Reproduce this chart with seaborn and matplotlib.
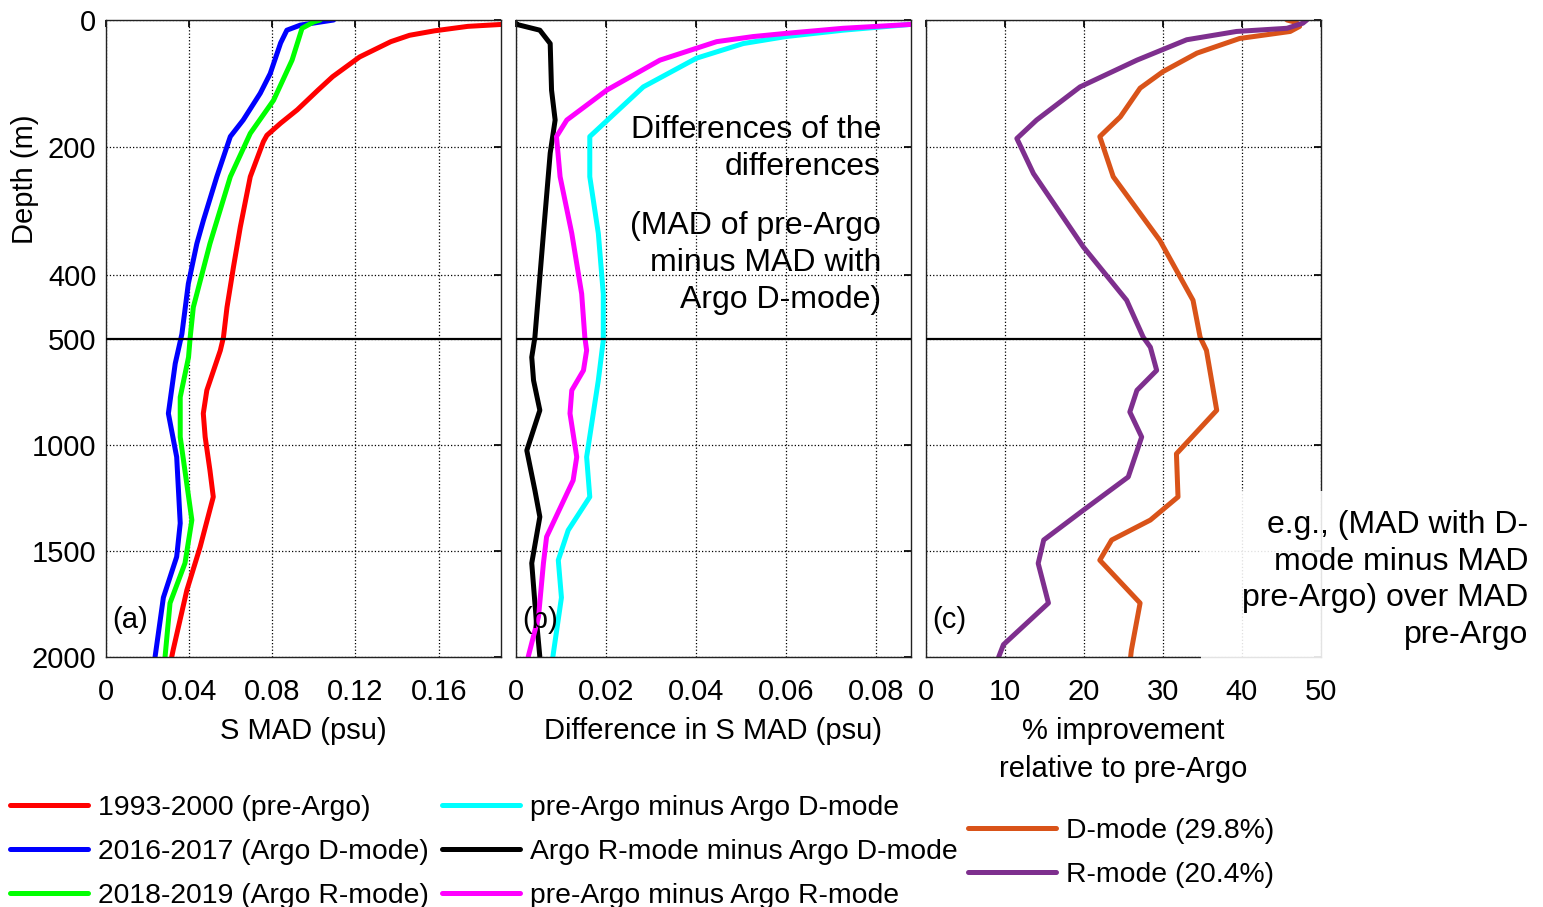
#!/usr/bin/env python3
# coding: utf-8

import numpy as np
import pandas as pd
import seaborn as sns
from matplotlib import pyplot as plt
from matplotlib.patches import Rectangle

# --- panel (a): S MAD profiles (psu) ---
depth_pre = [3, 7, 10, 17, 24, 34, 58, 89, 110, 141, 162, 181, 191, 246, 325, 388, 451, 498,
             556, 744, 853, 964, 1121, 1246, 1481, 1685, 1967, 2000]
mad_pre = [0.195, 0.190, 0.174, 0.158, 0.146, 0.137, 0.122, 0.109, 0.102, 0.092, 0.084, 0.0774,
           0.0757, 0.0694, 0.0646, 0.0613, 0.0582, 0.0565, 0.055, 0.0485, 0.0468, 0.0477,
           0.050, 0.0516, 0.0453, 0.0389, 0.0323, 0.0316]

depth_dmode = [0, 8, 16, 36, 84, 115, 157, 183, 246, 314, 351, 414, 493,
               618, 853, 1058, 1370, 1528, 1720, 2000]
mad_dmode = [0.1095, 0.0935, 0.087, 0.084, 0.079, 0.0742, 0.066, 0.0598, 0.0533, 0.0469,
             0.0437, 0.0396, 0.0365, 0.0333, 0.030, 0.034, 0.0357, 0.034, 0.0276, 0.0236]

depth_rmode = [0, 3, 13, 63, 126, 178, 246, 351, 451, 498,
               588, 776, 964, 1355, 1558, 1746, 2000]
mad_rmode = [0.103, 0.0999, 0.0943, 0.0895, 0.0806, 0.0694, 0.0598, 0.050, 0.042, 0.0405,
             0.0397, 0.0357, 0.0357, 0.0413, 0.038, 0.0308, 0.0284]

# --- panel (b): differences in S MAD (psu) ---
depth_pre_minus_d = [3, 7, 16, 26, 37, 60, 105, 183, 246, 335, 430, 498,
                     509, 697, 1058, 1246, 1403, 1544, 1720, 1983, 2000]
diff_pre_minus_d = [0.092, 0.0876, 0.0727, 0.060, 0.0505, 0.0401, 0.0283, 0.0164, 0.0164,
                    0.0183, 0.0194, 0.0194, 0.0194, 0.0183, 0.0157, 0.0164, 0.0116, 0.0094,
                    0.0101, 0.0083, 0.0082]

depth_r_minus_d = [5, 7, 16, 37, 110, 157, 209, 335, 498,
                   588, 697, 838, 1027, 1215, 1340, 1558, 1746, 2000]
diff_r_minus_d = [0.0, 0.0002, 0.0053, 0.0076, 0.0079, 0.0087, 0.0076, 0.0061, 0.0042,
                  0.0035, 0.0039, 0.0053, 0.0024, 0.0042, 0.0053, 0.0035, 0.0042, 0.0053]

depth_pre_minus_r = [3, 7, 13, 21, 26, 34, 63, 110, 157, 183, 246, 335, 430, 498,
                     556, 650, 744, 853, 1058, 1168, 1434, 1558, 1810, 2000]
diff_pre_minus_r = [0.092, 0.0876, 0.0727, 0.060, 0.0527, 0.0446, 0.032, 0.0202, 0.0113,
                    0.009, 0.0098, 0.0124, 0.0146, 0.0153, 0.0157, 0.015, 0.0124, 0.012,
                    0.0135, 0.0127, 0.0068, 0.0061, 0.005, 0.0027]

# --- panel (c): % improvement relative to pre-Argo ---
depth_imp_d = [0, 4, 10, 18, 29, 52, 81, 107, 152, 183, 246, 346, 440, 498,
               556, 838, 1043, 1246, 1355, 1449, 1544, 1746, 1967, 2000]
imp_d = [45.7, 46.9, 47.3, 46.1, 39.7, 34.3, 30.0, 27.1, 24.6, 22.0, 23.7, 29.6, 33.8, 34.7,
         35.5, 36.8, 31.7, 31.9, 28.4, 23.5, 22.0, 27.1, 26.0, 25.9]

depth_imp_r = [0, 5, 13, 18, 31, 63, 105, 157, 186, 241, 356, 440, 498,
               541, 650, 744, 846, 964, 1152, 1309, 1449, 1559, 1746, 1942, 2000]
imp_r = [48.2, 47.7, 45.7, 39.3, 33.0, 26.7, 19.5, 14.0, 11.5, 13.6, 19.9, 25.4, 27.5,
         28.4, 29.2, 26.7, 25.8, 27.3, 25.6, 19.9, 14.9, 14.2, 15.5, 9.8, 9.2]

labels_a = ["1993-2000 (pre-Argo)", "2016-2017 (Argo D-mode)", "2018-2019 (Argo R-mode)"]
labels_b = ["pre-Argo minus Argo D-mode", "Argo R-mode minus Argo D-mode",
            "pre-Argo minus Argo R-mode"]
labels_c = ["D-mode (29.8%)", "R-mode (20.4%)"]

colors_a = ["#ff0000", "#0000ff", "#00ff00"]
colors_b = ["#00ffff", "#000000", "#ff00ff"]
colors_c = ["#d95319", "#7e2f8e"]

depth_ticks = [0, 200, 400, 500, 1000, 1500, 2000]

FONT = 21
NOTE_FONT = 23
LEG_FONT = 20.4
LW = 3.6

sns.set_theme(style="white")
plt.rcParams["font.family"] = ["Liberation Sans", "DejaVu Sans"]
plt.rcParams.update({"text.color": "black", "axes.labelcolor": "black",
                     "xtick.color": "black", "ytick.color": "black"})


def depth_fwd(d):
    # upper 500 m gets as much room as the 500-2000 m below it
    d = np.asarray(d, dtype=float)
    return np.where(d <= 500, d / 500.0, 1.0 + (d - 500.0) / 1500.0)


def depth_inv(u):
    u = np.asarray(u, dtype=float)
    return np.where(u <= 1, u * 500.0, 500.0 + (u - 1.0) * 1500.0)


def profiles(names, depths, values):
    frames = [pd.DataFrame({"depth": d, "value": v, "series": n})
              for n, d, v in zip(names, depths, values)]
    return pd.concat(frames, ignore_index=True)


def draw_panel(ax, df, names, colors, xlim, xticks, xticklabels, xlabel, tag, show_y):
    sns.lineplot(data=df, x="value", y="depth", hue="series", hue_order=names,
                 palette=colors, sort=False, estimator=None, lw=LW, legend=False, ax=ax)
    ax.set_yscale("function", functions=(depth_fwd, depth_inv))
    ax.set_ylim(2000, 0)
    ax.set_xlim(*xlim)
    ax.set_yticks(depth_ticks)
    ax.set_xticks(xticks)
    ax.set_xticklabels(xticklabels)
    if show_y:
        ax.set_yticklabels([str(t) for t in depth_ticks])
        ax.set_ylabel("Depth (m)", fontsize=FONT)
        ax.yaxis.set_label_coords(-0.17, 0.75)
    else:
        ax.set_yticklabels([])
        ax.set_ylabel("")
    ax.set_xlabel(xlabel, fontsize=FONT, labelpad=8, linespacing=1.45)
    ax.grid(True, color="black", linestyle=":", lw=0.9)
    ax.axhline(500, color="black", lw=1.6, zorder=3)
    ax.tick_params(axis="both", direction="in", length=5, top=True, right=True,
                   labelsize=FONT, color="black")
    ax.tick_params(axis="x", pad=15)
    ax.tick_params(axis="y", pad=7)
    for sp in ax.spines.values():
        sp.set_color("#222222")
        sp.set_linewidth(1.0)
    ax.text(0.015, 0.058, tag, transform=ax.transAxes, fontsize=FONT,
            ha="left", va="center")


fig = plt.figure(figsize=(15.43, 9.07), dpi=100)
W, H = 1543.0, 907.0
bottom, height = 1 - 657 / H, 637 / H
ax_a = fig.add_axes([106 / W, bottom, 395 / W, height])
ax_b = fig.add_axes([516 / W, bottom, 395 / W, height])
ax_c = fig.add_axes([926 / W, bottom, 395 / W, height])

df_a = profiles(labels_a, [depth_pre, depth_dmode, depth_rmode], [mad_pre, mad_dmode, mad_rmode])
df_b = profiles(labels_b, [depth_pre_minus_d, depth_r_minus_d, depth_pre_minus_r],
                [diff_pre_minus_d, diff_r_minus_d, diff_pre_minus_r])
df_c = profiles(labels_c, [depth_imp_d, depth_imp_r], [imp_d, imp_r])

draw_panel(ax_a, df_a, labels_a, colors_a, (0, 0.19), [0, 0.04, 0.08, 0.12, 0.16],
           ["0", "0.04", "0.08", "0.12", "0.16"], "S MAD (psu)", "(a)", True)
draw_panel(ax_b, df_b, labels_b, colors_b, (0, 0.0878), [0, 0.02, 0.04, 0.06, 0.08],
           ["0", "0.02", "0.04", "0.06", "0.08"], "Difference in S MAD (psu)", "(b)", False)
draw_panel(ax_c, df_c, labels_c, colors_c, (0, 50), [0, 10, 20, 30, 40, 50],
           ["0", "10", "20", "30", "40", "50"], "% improvement\nrelative to pre-Argo", "(c)", False)

ax_b.text(0.924, 0.798, "Differences of the\ndifferences", transform=ax_b.transAxes,
          fontsize=NOTE_FONT, ha="right", va="center", linespacing=1.3)
ax_b.text(0.924, 0.618, "(MAD of pre-Argo\nminus MAD with\nArgo D-mode)",
          transform=ax_b.transAxes, fontsize=NOTE_FONT, ha="right", va="center", linespacing=1.3)

# semi-opaque white box with the note for panel (c)
fig.patches.append(Rectangle((1201 / W, 1 - 661 / H), (W - 1201) / W, 170 / H,
                             transform=fig.transFigure, facecolor="white", alpha=0.88,
                             edgecolor="none", zorder=4))
fig.text(1528 / W, 1 - 580 / H, "e.g., (MAD with D-\nmode minus MAD\npre-Argo) over MAD\npre-Argo",
         fontsize=NOTE_FONT, ha="right", va="center", linespacing=1.3, zorder=5)

leg_kw = dict(frameon=False, fontsize=LEG_FONT, borderpad=0, borderaxespad=0,
              handletextpad=0.35, labelspacing=0.63, loc="upper left", labelcolor="black")
fig.legend(ax_a.get_lines()[:3], labels_a, bbox_to_anchor=(10 / W, 1 - 795 / H),
           handlelength=2.75, **leg_kw)
fig.legend(ax_b.get_lines()[:3], labels_b, bbox_to_anchor=(442 / W, 1 - 795 / H),
           handlelength=2.75, **leg_kw)
fig.legend(ax_c.get_lines()[:2], labels_c, bbox_to_anchor=(968 / W, 1 - 818 / H),
           handlelength=3.1, **leg_kw)

fig.savefig("out.png", dpi=100)
